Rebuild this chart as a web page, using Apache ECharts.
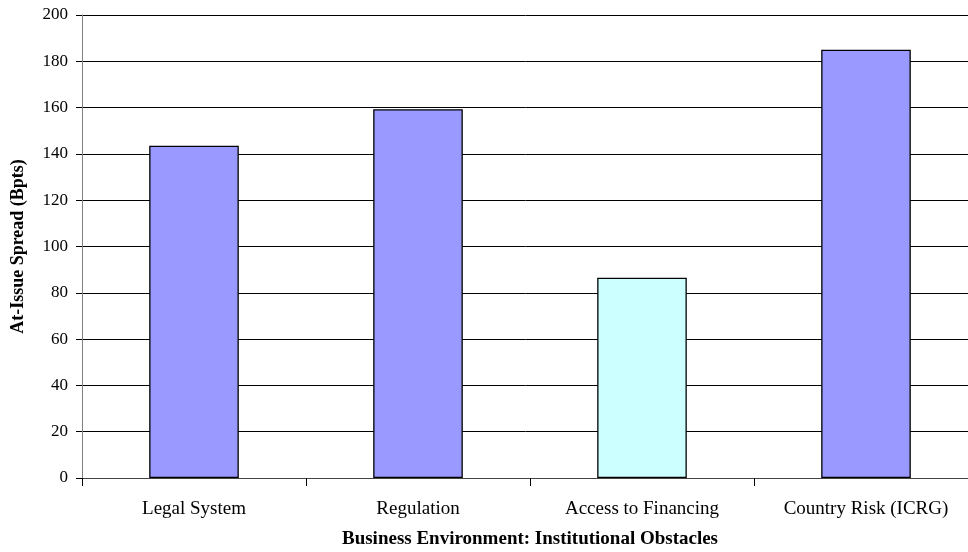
<!DOCTYPE html>
<html><head><meta charset="utf-8">
<script src="https://cdn.jsdelivr.net/npm/echarts@6/dist/echarts.min.js"></script>
<style>html,body{margin:0;padding:0;background:#fff}#c{width:968px;height:552px}</style>
</head><body><div id="c"></div>
<script>
const categories = ["Legal System", "Regulation", "Access to Financing", "Country Risk (ICRG)"];
const spreads = [143.5, 159.3, 86.5, 185.0];
const barColors = ["#9999FF", "#9999FF", "#CCFFFF", "#9999FF"];
const yTicks = {min: 0, max: 200, interval: 20};

const chart = echarts.init(document.getElementById('c'), null, {renderer: 'canvas'});
const font = '"Liberation Serif", "Times New Roman", serif';
chart.setOption({
  animation: false,
  backgroundColor: '#fff',
  grid: {left: 82, right: -10, top: 15, bottom: 74, containLabel: false, outerBoundsMode: 'none'},
  xAxis: {
    type: 'category',
    data: categories,
    boundaryGap: true,
    name: 'Business Environment: Institutional Obstacles',
    nameLocation: 'middle',
    nameGap: 52,
    nameTextStyle: {fontFamily: font, fontWeight: 'bold', fontSize: 19, color: '#000'},
    axisLine: {lineStyle: {color: '#444', width: 1}},
    axisTick: {show: true, length: 8, lineStyle: {color: '#000'}},
    axisLabel: {fontFamily: font, fontSize: 19, color: '#000', margin: 22}
  },
  yAxis: {
    type: 'value',
    min: yTicks.min, max: yTicks.max, interval: yTicks.interval,
    name: 'At-Issue Spread (Bpts)',
    nameLocation: 'middle',
    nameRotate: 90,
    nameGap: 55,
    nameTextStyle: {fontFamily: font, fontWeight: 'bold', fontSize: 18, color: '#000'},
    axisLine: {show: true, lineStyle: {color: '#808080', width: 1}},
    axisTick: {show: true, length: 6, lineStyle: {color: '#000'}},
    axisLabel: {fontFamily: font, fontSize: 17, color: '#000', margin: 14},
    splitLine: {show: true, lineStyle: {color: '#000', width: 1}}
  },
  series: [{
    type: 'bar',
    barWidth: '40%',
    data: spreads.map((v, i) => ({value: v, itemStyle: {color: barColors[i]}})),
    itemStyle: {borderColor: '#000', borderWidth: 1.3}
  }]
});
</script></body></html>
